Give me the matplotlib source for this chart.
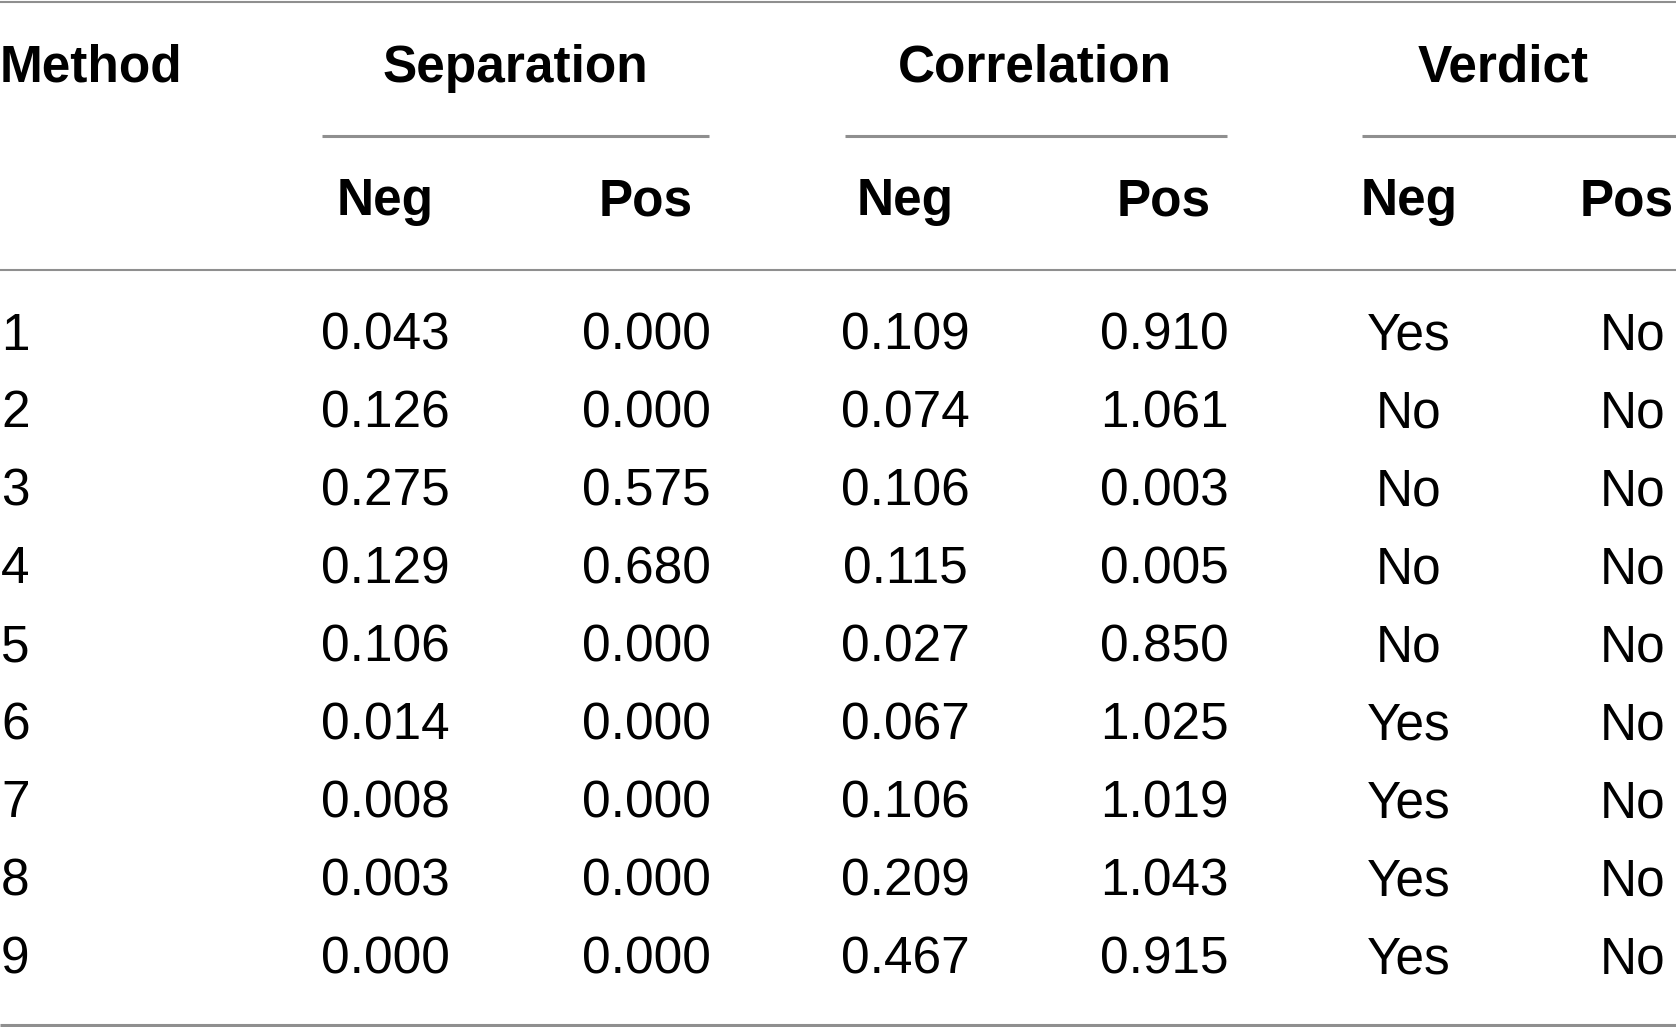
import matplotlib
matplotlib.use("Agg")
import matplotlib.pyplot as plt

plt.rcParams['font.family'] = ['Liberation Sans', 'DejaVu Sans']

# ---- data ----
methods = ["1", "2", "3", "4", "5", "6", "7", "8", "9"]
sep_neg = [0.043, 0.126, 0.275, 0.129, 0.106, 0.014, 0.008, 0.003, 0.000]
sep_pos = [0.000, 0.000, 0.575, 0.680, 0.000, 0.000, 0.000, 0.000, 0.000]
corr_neg = [0.109, 0.074, 0.106, 0.115, 0.027, 0.067, 0.106, 0.209, 0.467]
corr_pos = [0.910, 1.061, 0.003, 0.005, 0.850, 1.025, 1.019, 1.043, 0.915]
verdict_neg = ["Yes", "No", "No", "No", "No", "Yes", "Yes", "Yes", "Yes"]
verdict_pos = ["No", "No", "No", "No", "No", "No", "No", "No", "No"]
group_headers = ["Separation", "Correlation", "Verdict"]
sub_headers = ["Neg", "Pos"]
first_header = "Method"

W, H = 1676, 1027
fig = plt.figure(figsize=(W / 100, H / 100), dpi=100)
ax = fig.add_axes([0, 0, 1, 1])
ax.set_xlim(0, W)
ax.set_ylim(H, 0)
ax.set_axis_off()

line_col = "#8f8f8f"
fs = 37

# column centres
col_x = [385, 646, 905, 1164, 1409, 1633]
group_x = [515, 1035, 1503]
cmid = [(322, 709), (845, 1227), (1362, 1676)]

# rules
ax.plot([0, W], [2, 2], color=line_col, lw=1.5, solid_capstyle='butt')
for (a, b) in cmid:
    ax.plot([a, b], [135.5, 135.5], color=line_col, lw=2.2, solid_capstyle='butt')
ax.plot([0, W], [270, 270], color=line_col, lw=1.5, solid_capstyle='butt')
ax.plot([0, W], [1025, 1025], color=line_col, lw=2.2, solid_capstyle='butt')

# headers
ax.text(0, 82, first_header, fontsize=fs, fontweight='bold', ha='left', va='baseline')
for gx, g in zip(group_x, group_headers):
    ax.text(gx, 82, g, fontsize=fs, fontweight='bold', ha='center', va='baseline')
for i, cx in enumerate(col_x):
    label = sub_headers[i % 2]
    if i == 5:
        ax.text(W - 2, 215, label, fontsize=fs, fontweight='bold', ha='right', va='baseline')
    else:
        ax.text(cx, 215, label, fontsize=fs, fontweight='bold', ha='center', va='baseline')

# body
row0 = 349.5
dy = 77.95
for r in range(len(methods)):
    y = row0 + r * dy
    ax.text(1, y, methods[r], fontsize=fs, ha='left', va='baseline')
    vals = [f"{sep_neg[r]:.3f}", f"{sep_pos[r]:.3f}", f"{corr_neg[r]:.3f}",
            f"{corr_pos[r]:.3f}", verdict_neg[r], verdict_pos[r]]
    for cx, v in zip(col_x, vals):
        ax.text(cx, y, v, fontsize=fs, ha='center', va='baseline')

fig.savefig("out.png", dpi=100, facecolor='white')
